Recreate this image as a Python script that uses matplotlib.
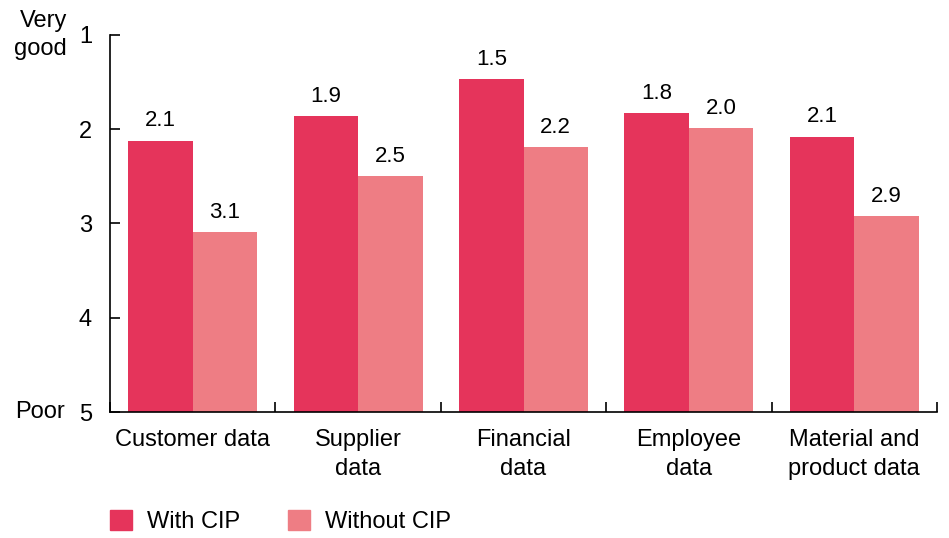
import numpy as np
import matplotlib.pyplot as plt
from matplotlib.patches import Patch

categories = ["Customer data", "Supplier\ndata", "Financial\ndata", "Employee\ndata", "Material and\nproduct data"]
with_cip = [2.12, 1.86, 1.47, 1.83, 2.08]
without_cip = [3.09, 2.50, 2.19, 1.99, 2.92]
y_ticks = [1, 2, 3, 4, 5]

dark = "#E5345B"
light = "#EE7D84"

plt.rcParams["font.family"] = ["Liberation Sans", "DejaVu Sans"]
plt.rcParams["font.size"] = 17

fig = plt.figure(figsize=(9.49, 5.38), dpi=100)
ax = fig.add_axes([0.1159, 0.2342, 0.8715, 0.7008])

x = np.arange(len(categories)) + 0.5
w = 0.39
ax.bar(x - w / 2, np.array(with_cip) - 5, bottom=5, width=w, color=dark)
ax.bar(x + w / 2, np.array(without_cip) - 5, bottom=5, width=w, color=light)

for xs, vals in [(x - w / 2, with_cip), (x + w / 2, without_cip)]:
    for xi, v in zip(xs, vals):
        ax.text(xi, v - 0.10, f"{v:.1f}", ha="center", va="bottom", fontsize=16)

ax.set_xlim(0, len(categories))
ax.set_ylim(5, 1)
ax.set_yticks(y_ticks)
ax.set_yticklabels([str(t) for t in y_ticks])
ax.set_xticks(np.arange(len(categories) + 1))
ax.set_xticklabels([])
ax.set_xticks(x, minor=True)
ax.set_xticklabels(categories, minor=True, fontsize=17, linespacing=1.45)
ax.tick_params(axis="x", which="major", direction="in", length=7, width=1.2)
ax.tick_params(axis="x", which="minor", length=0, pad=12)
ax.tick_params(axis="y", direction="in", length=7, width=1.2, pad=13, labelsize=17)
for side in ["top", "right"]:
    ax.spines[side].set_visible(False)
for side in ["left", "bottom"]:
    ax.spines[side].set_linewidth(1.2)

ax.text(-0.052, 1.0, "Very\ngood", transform=ax.get_yaxis_transform(), ha="right", va="center",
        fontsize=17, linespacing=1.35)
ax.text(-0.054, 5.0, "Poor", transform=ax.get_yaxis_transform(), ha="right", va="center", fontsize=17)

handles = [Patch(color=dark, label="With CIP"), Patch(color=light, label="Without CIP")]
fig.legend(handles=handles, loc="lower left", bbox_to_anchor=(0.093, -0.03), ncol=2, frameon=False,
           handlelength=0.95, handleheight=0.95, handletextpad=0.65, columnspacing=2.0, fontsize=17)

fig.savefig("out.png", dpi=100)
